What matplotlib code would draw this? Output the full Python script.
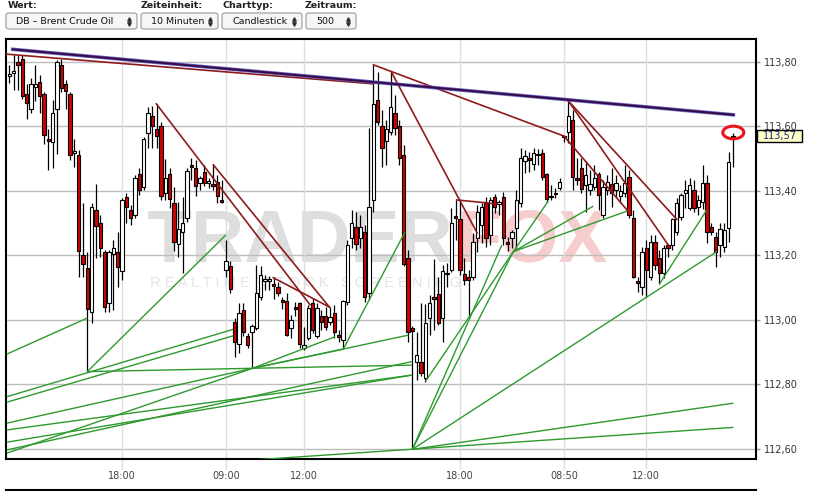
import matplotlib
matplotlib.use("Agg")
import matplotlib.pyplot as plt
from matplotlib.patches import FancyBboxPatch, Circle, Rectangle
from matplotlib.lines import Line2D

# ---------------- data ----------------
opens = [113.756,113.767,113.800,113.809,113.701,113.654,113.722,113.738,113.701,113.561,
         113.552,113.654,113.790,113.732,113.701,113.518,113.512,113.202,113.161,113.025,
         113.341,113.301,113.211,113.053,113.205,113.211,113.152,113.381,113.341,113.326,
         113.453,113.412,113.580,113.632,113.592,113.601,113.394,113.453,113.363,113.236,
         113.273,113.316,113.481,113.471,113.425,113.459,113.426,113.422,113.428,113.372,
         113.155,113.167,112.994,112.926,113.031,112.950,112.963,112.975,113.071,113.121,
         113.122,113.112,113.102,113.062,113.059,112.975,113.040,113.053,112.913,112.944,
         113.053,112.950,113.012,113.012,112.994,113.022,112.954,112.938,113.056,113.254,
         113.288,113.254,113.273,113.084,113.372,113.682,113.601,113.555,113.583,113.642,
         113.601,113.512,113.192,112.975,112.870,112.870,112.820,113.006,113.071,113.081,
         113.006,113.141,113.155,113.322,113.313,113.143,113.133,113.133,113.254,113.295,
         113.363,113.264,113.381,113.361,113.381,113.242,113.254,113.285,113.363,113.493,
         113.502,113.484,113.510,113.518,113.453,113.381,113.389,113.409,113.566,113.583,
         113.620,113.440,113.471,113.419,113.403,113.412,113.453,113.326,113.403,113.422,
         113.403,113.384,113.394,113.443,113.316,113.121,113.102,113.223,113.133,113.242,
         113.192,113.146,113.233,113.233,113.273,113.319,113.394,113.347,113.403,113.350,
         113.366,113.425,113.288,113.257,113.233,113.226,113.285,113.566]
closes = [113.763,113.772,113.790,113.694,113.673,113.732,113.732,113.694,113.574,113.555,
          113.642,113.800,113.719,113.710,113.512,113.524,113.214,113.174,113.034,113.350,
          113.291,113.223,113.040,113.211,113.223,113.164,113.372,113.350,113.316,113.440,
          113.403,113.561,113.642,113.601,113.570,113.384,113.440,113.375,113.242,113.282,
          113.301,113.462,113.474,113.415,113.440,113.425,113.429,113.415,113.384,113.366,
          113.183,113.096,112.932,113.022,112.963,112.923,112.981,113.084,113.140,113.127,
          113.125,113.105,113.084,113.056,112.954,113.000,113.034,112.926,112.923,113.037,
          112.969,113.037,112.994,112.978,113.009,112.963,112.947,113.059,113.233,113.301,
          113.236,113.288,113.071,113.350,113.670,113.614,113.533,113.592,113.660,113.595,
          113.502,113.174,112.963,112.966,112.892,112.836,112.991,113.053,113.065,112.991,
          113.152,113.144,113.301,113.316,113.155,113.124,113.124,113.242,113.335,113.350,
          113.254,113.372,113.350,113.364,113.254,113.236,113.273,113.372,113.502,113.508,
          113.496,113.518,113.513,113.443,113.375,113.384,113.392,113.428,113.569,113.632,
          113.443,113.434,113.406,113.450,113.422,113.440,113.388,113.412,113.428,113.394,
          113.425,113.400,113.425,113.326,113.133,113.115,113.211,113.155,113.242,113.171,
          113.146,113.223,113.223,113.313,113.363,113.388,113.403,113.419,113.347,113.372,
          113.425,113.273,113.273,113.211,113.282,113.279,113.490,113.570]
highs = [113.790,113.821,113.821,113.821,113.732,113.750,113.790,113.760,113.707,113.592,
         113.682,113.806,113.809,113.744,113.707,113.561,113.527,113.363,113.211,113.363,
         113.422,113.326,113.217,113.217,113.248,113.273,113.378,113.394,113.357,113.450,
         113.471,113.567,113.660,113.663,113.670,113.614,113.499,113.471,113.412,113.366,
         113.381,113.471,113.502,113.496,113.446,113.481,113.440,113.481,113.450,113.434,
         113.248,113.183,113.006,113.053,113.053,112.960,112.988,113.171,113.167,113.140,
         113.136,113.133,113.118,113.071,113.084,113.015,113.056,113.056,112.978,113.047,
         113.068,113.053,113.031,113.040,113.040,113.047,112.969,113.062,113.248,113.341,
         113.335,113.326,113.295,113.595,113.790,113.769,113.651,113.620,113.769,113.698,
         113.620,113.543,113.217,112.981,112.963,113.053,113.050,113.078,113.189,113.133,
         113.171,113.177,113.347,113.372,113.372,113.192,113.155,113.270,113.357,113.363,
         113.381,113.381,113.391,113.372,113.397,113.257,113.279,113.403,113.533,113.527,
         113.521,113.533,113.530,113.530,113.456,113.419,113.409,113.440,113.570,113.679,
         113.651,113.502,113.502,113.493,113.465,113.481,113.459,113.434,113.450,113.471,
         113.450,113.419,113.481,113.465,113.341,113.133,113.226,113.248,113.264,113.264,
         113.217,113.233,113.236,113.316,113.378,113.394,113.434,113.440,113.434,113.388,
         113.481,113.450,113.301,113.273,113.301,113.301,113.521,113.580]
lows = [113.735,113.713,113.713,113.685,113.623,113.642,113.679,113.642,113.546,113.465,
        113.471,113.515,113.707,113.654,113.496,113.474,113.133,113.133,112.839,112.991,
        113.192,113.195,113.025,113.025,113.031,113.102,113.124,113.301,113.295,113.316,
        113.387,113.403,113.533,113.533,113.533,113.372,113.372,113.347,113.214,113.195,
        113.146,113.304,113.434,113.384,113.403,113.415,113.409,113.403,113.363,113.363,
        113.133,113.084,112.885,112.898,112.950,112.913,112.851,112.969,113.062,113.093,
        113.093,113.065,113.074,113.034,112.950,112.944,113.012,112.913,112.907,112.938,
        112.960,112.944,112.969,112.969,112.984,112.944,112.932,112.910,113.047,113.223,
        113.217,113.223,113.056,113.062,113.335,113.605,113.474,113.481,113.574,113.574,
        113.481,113.167,112.932,112.600,112.814,112.826,112.808,112.954,112.969,112.984,
        112.932,113.102,113.149,113.248,113.140,113.109,113.009,113.124,113.211,113.239,
        113.226,113.233,113.332,113.326,113.233,113.214,113.223,113.223,113.350,113.456,
        113.459,113.465,113.481,113.434,113.366,113.372,113.378,113.403,113.552,113.549,
        113.403,113.419,113.394,113.335,113.387,113.403,113.341,113.316,113.387,113.350,
        113.381,113.363,113.381,113.316,113.130,113.087,113.078,113.071,113.124,113.155,
        113.112,113.130,113.195,113.217,113.264,113.310,113.347,113.341,113.335,113.326,
        113.344,113.239,113.264,113.164,113.195,113.211,113.242,113.474]

x_tick_pos = [26, 50, 68, 104, 128, 147]
x_tick_labels = ["18:00", "09:00", "12:00", "18:00", "08:50", "12:00"]
y_ticks = [112.6, 112.8, 113.0, 113.2, 113.4, 113.6, 113.8]
y_tick_labels = ["112,60", "112,80", "113,00", "113,20", "113,40", "113,60", "113,80"]
last_price = 113.57
last_label = "113,57"

# trend lines: (x0, p0, x1, p1) in candle index / price units
navy_line = (0.78, 113.839, 167.08, 113.636)
red_lines = [
    (-0.61, 113.824, 84.0, 113.732),
    (33.92, 113.670, 69.39, 113.047),
    (47.07, 113.481, 73.85, 113.040),
    (60.92, 113.131, 73.85, 113.040),
    (84.0, 113.791, 128.0, 113.570),
    (88.15, 113.769, 107.93, 113.270),
    (103.25, 113.372, 112.48, 113.360),
    (129.0, 113.679, 154.02, 113.312),
    (129.0, 113.679, 152.08, 113.232),
    (128.0, 113.570, 142.85, 113.336),
]
green_lines = [
    (-0.61, 112.894, 18.0, 113.006),
    (18.0, 112.840, 50.0, 113.264),
    (18.0, 112.840, 92.86, 112.860),
    (-0.61, 112.762, 51.69, 112.971),
    (-0.61, 112.745, 51.69, 112.951),
    (-0.61, 112.680, 56.07, 112.850),
    (-0.61, 112.587, 56.07, 112.850),
    (-0.61, 112.659, 92.86, 112.829),
    (-0.61, 112.621, 92.86, 112.829),
    (-0.61, 112.597, 92.86, 112.871),
    (56.07, 112.850, 75.16, 112.948),
    (56.07, 112.850, 77.24, 112.910),
    (56.07, 112.850, 92.08, 112.953),
    (77.07, 112.910, 91.31, 113.273),
    (56.3, 112.566, 167.08, 112.667),
    (93.0, 112.599, 167.08, 112.742),
    (93.0, 112.599, 113.63, 113.232),
    (93.0, 112.599, 116.31, 113.212),
    (96.0, 112.809, 116.31, 113.212),
    (93.0, 112.599, 163.25, 113.212),
    (116.31, 113.212, 124.39, 113.369),
    (116.31, 113.212, 134.77, 113.353),
    (116.31, 113.212, 142.85, 113.339),
    (150.0, 113.111, 160.94, 113.341),
]

# ---------------- figure ----------------
W, H = 813, 491
fig = plt.figure(figsize=(W / 100, H / 100), dpi=100)
fig.patch.set_facecolor("white")


def fx(px):
    return px / W


def fy(py):
    return 1 - py / H


L, R, T, B = 6, 756, 39, 459
ax = fig.add_axes([fx(L), fy(B), (R - L) / W, (B - T) / H])
ax.set_xlim(-0.77, 172.3)
ax.set_ylim(112.569, 113.871)
ax.set_axisbelow(True)

# grid
for yv in y_ticks:
    ax.axhline(yv, color="#bdbdbd", lw=1.0, zorder=0.5)
for xv in x_tick_pos:
    ax.axvline(xv, color="#dedede", lw=1.0, zorder=0.5)

# watermark
ax.text(fx(453), fy(262), "TRADER", transform=fig.transFigure, ha="right", va="baseline",
        fontsize=53, fontweight="bold", family="Liberation Sans", color="#dedede", zorder=0.4)
ax.text(fx(456), fy(262), "FOX", transform=fig.transFigure, ha="left", va="baseline",
        fontsize=53, fontweight="bold", family="Liberation Sans", color="#f6cccc", zorder=0.4)
ax.text(fx(305), fy(283), "R E A L T I M E   S T O C K   S C R E E N I N G",
        transform=fig.transFigure, ha="center", va="center", fontsize=10.5,
        family="Liberation Sans", color="#e4e4e4", zorder=0.4)

# candles
bw = 0.72
for i in range(len(opens)):
    o, h, l, c = opens[i], highs[i], lows[i], closes[i]
    ax.vlines(i, l, h, color="black", lw=0.9, zorder=2)
    lo, hi = min(o, c), max(o, c)
    ht = max(hi - lo, 0.004)
    fc = "white" if c >= o else "#d40000"
    ax.add_patch(Rectangle((i - bw / 2, lo), bw, ht, facecolor=fc, edgecolor="black",
                           lw=0.8, zorder=2.5))

# trend lines
for (x0, p0, x1, p1) in green_lines:
    ax.plot([x0, x1], [p0, p1], color="#2e9a2e", lw=1.0, zorder=3, solid_capstyle="butt")
for (x0, p0, x1, p1) in red_lines:
    ax.plot([x0, x1], [p0, p1], color="#8e1b1b", lw=1.2, zorder=3.2)
x0, p0, x1, p1 = navy_line
ax.plot([x0, x1], [p0, p1], color="#5050c8", lw=2.6, zorder=3.3, alpha=0.85)
ax.plot([x0, x1], [p0, p1], color="#3a0c45", lw=1.5, zorder=3.4)

# axes styling
for s in ["left", "right", "bottom", "top"]:
    ax.spines[s].set_color("black")
    ax.spines[s].set_linewidth(1.5)
ax.yaxis.tick_right()
ax.set_yticks(y_ticks)
ax.set_yticklabels(y_tick_labels)
ax.tick_params(axis="y", length=3, width=1, color="#999999", labelsize=7, pad=3,
               labelcolor="#333333")
ax.set_xticks(x_tick_pos)
ax.set_xticklabels(x_tick_labels)
ax.tick_params(axis="x", length=7, width=1, color="#dddddd", labelsize=7, pad=1.5,
               labelcolor="#444444")

# last price circle and label
circ_cx, circ_cy = 733.3, 132.5
fig.patches.append(Circle((fx(circ_cx), fy(circ_cy)), 10.5 / W, transform=fig.transFigure,
                          fill=False, edgecolor="#e8141b", lw=2.2, zorder=10))
ypx = T + (113.871 - last_price) / (113.871 - 112.569) * (B - T)
fig.patches.append(Rectangle((fx(757), fy(ypx + 6)), 45 / W, 12 / H, transform=fig.transFigure,
                             facecolor="#ffffc8", edgecolor="black", lw=1.0, zorder=10))
fig.text(fx(780), fy(ypx), last_label, ha="center", va="center", fontsize=7,
         color="#1c1c8c", zorder=11)

# panel below
fig.add_artist(Line2D([fx(6), fx(756)], [fy(490), fy(490)], color="black", lw=1.5))

# top controls
labels = [("Wert:", 8), ("Zeiteinheit:", 141), ("Charttyp:", 222), ("Zeitraum:", 305)]
for txt, xp in labels:
    fig.text(fx(xp), fy(6), txt, ha="left", va="center", fontsize=6.8, fontweight="bold",
             color="#222222")
boxes = [("DB – Brent Crude Oil", 6, 137), ("10 Minuten", 141, 218),
         ("Candlestick", 222, 302), ("500", 306, 356)]
for txt, x0b, x1b in boxes:
    fig.patches.append(FancyBboxPatch((fx(x0b), fy(29)), (x1b - x0b) / W, 16 / H,
                                      boxstyle="round,pad=0,rounding_size=0.004",
                                      transform=fig.transFigure, facecolor="#f6f6f6",
                                      edgecolor="#9a9a9a", lw=0.8))
    fig.text(fx(x0b + 10), fy(21), txt, ha="left", va="center", fontsize=6.8, color="#111111")
    ax_x = x1b - 8
    fig.add_artist(Line2D([fx(ax_x)], [fy(18.5)], marker="^", markersize=2.5, color="#333333",
                          transform=fig.transFigure))
    fig.add_artist(Line2D([fx(ax_x)], [fy(23.5)], marker="v", markersize=2.5, color="#333333",
                          transform=fig.transFigure))

fig.savefig("out.png", dpi=100)
